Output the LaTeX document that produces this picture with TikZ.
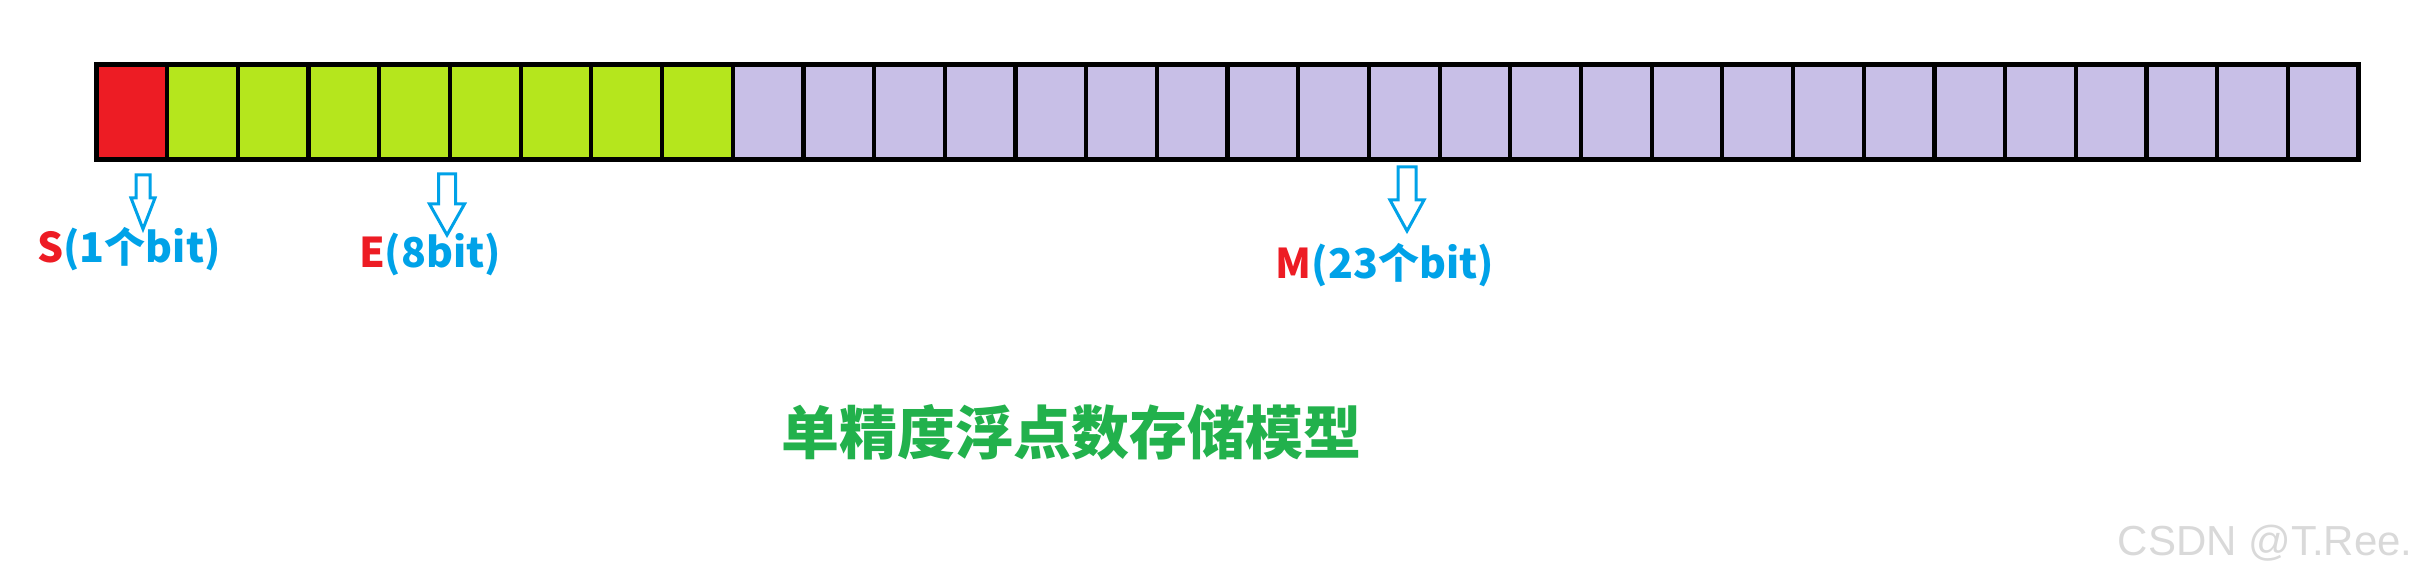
\documentclass[tikz,border=0pt]{standalone}
\usepackage{fontspec}
\setmainfont{Noto Sans CJK SC}
\newfontfamily\wmfont{Liberation Sans}
\definecolor{signred}{HTML}{ED1C24}
\definecolor{expgreen}{HTML}{B5E61D}
\definecolor{mantpurple}{HTML}{C8BFE7}
\definecolor{lblblue}{HTML}{00A2E8}
\definecolor{titlegreen}{HTML}{22B14C}
% hollow down arrow: x, top, tip, shaft half width, head half width
\newcommand\hollowdown[5]{%
  \draw[downarrow] ({#1-#4},#2) -- ({#1+#4},#2) -- ({#1+#4},{#3-31}) -- ({#1+#5},{#3-31})
    -- (#1,#3) -- ({#1-#5},{#3-31}) -- ({#1-#4},{#3-31}) -- cycle;}

\begin{document}
\begin{tikzpicture}[x=0.5pt, y=-0.5pt,
    bitcell/.style={draw, line width=2.1pt, minimum width=35.345pt, minimum height=47.5pt, inner sep=0pt, outer sep=0pt},
    downarrow/.style={draw=lblblue, line width=1.5pt, line join=miter},
    fieldlbl/.style={font=\bfseries\fontsize{20.5}{24}\selectfont, text=lblblue, anchor=base, inner sep=0pt}]
    \useasboundingbox (0,0) rectangle (2424,582);
    % 1 sign bit, 8 exponent bits, 23 mantissa bits
    \foreach \i in {0,...,31} {
        \ifnum\i=0 \def\cellcol{signred}\else\ifnum\i<9 \def\cellcol{expgreen}\else\def\cellcol{mantpurple}\fi\fi
        \node[bitcell, fill=\cellcol] (b\i) at ({96.5+(\i+0.5)*70.69},112) {};
    }
    \draw[line width=2.5pt] (b0.north west) rectangle (b31.south east);
    % arrows down to the field labels
    \hollowdown{143}{175}{229}{7}{12}
    \hollowdown{447}{174}{235}{8.5}{17.5}
    \hollowdown{1407}{167}{231}{9}{17}
    \node[fieldlbl] (slbl) at (129,263) {\textcolor{signred}{S}(1个bit)};
    \node[fieldlbl] (elbl) at (430,268) {\textcolor{signred}{E}(8bit)};
    \node[fieldlbl] (mlbl) at (1385,279) {\textcolor{signred}{M}(23个bit)};
    \node[font=\bfseries\fontsize{29}{34}\selectfont, text=titlegreen] (title) at (1071,432) {单精度浮点数存储模型};
    \node[font=\wmfont\fontsize{21}{25}\selectfont, text=black!15, anchor=base east, inner sep=0pt] (wmark) at (2413,555) {CSDN @T.Ree.};
\end{tikzpicture}
\end{document}
